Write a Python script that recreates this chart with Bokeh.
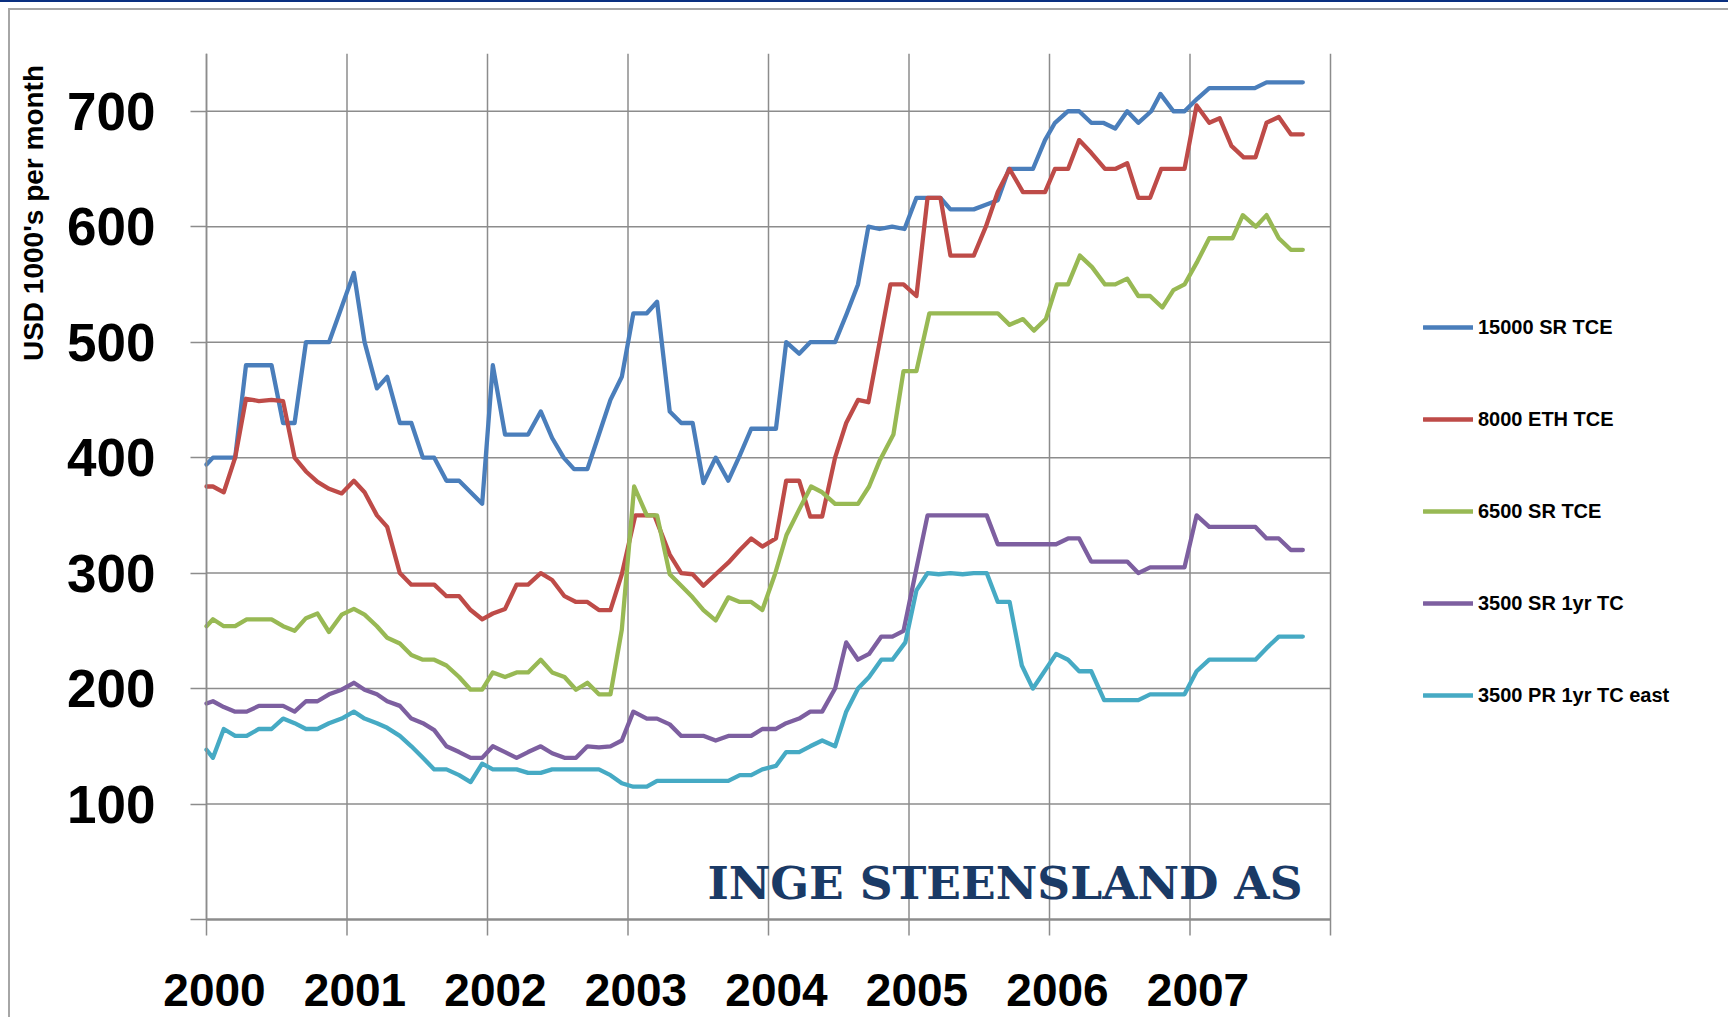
from bokeh.plotting import figure
from bokeh.models import Range1d, FixedTicker, Label, Legend, LegendItem, NumeralTickFormatter
from bokeh.embed import file_html
from bokeh.resources import INLINE
import math

# ---------------- data ----------------
YEAR_TICKS = [2000, 2001, 2002, 2003, 2004, 2005, 2006, 2007, 2008]
YEAR_LABELS = [2000, 2001, 2002, 2003, 2004, 2005, 2006, 2007]
VALUE_TICKS = [0, 100, 200, 300, 400, 500, 600, 700]

SERIES_NAMES = ["15000 SR TCE", "8000 ETH TCE", "6500 SR TCE", "3500 SR 1yr TC", "3500 PR 1yr TC east"]

X_15000 = [2000.0, 2000.046, 2000.204, 2000.281, 2000.463, 2000.545, 2000.627, 2000.708, 2000.872,
           2001.049, 2001.125, 2001.213, 2001.286, 2001.376, 2001.458, 2001.540, 2001.621, 2001.708,
           2001.798, 2001.962, 2002.038, 2002.125, 2002.289, 2002.379, 2002.460, 2002.542, 2002.616,
           2002.711, 2002.793, 2002.875, 2002.956, 2003.038, 2003.134, 2003.207, 2003.297, 2003.379,
           2003.460, 2003.537, 2003.624, 2003.714, 2003.796, 2003.877, 2004.053, 2004.126, 2004.218,
           2004.297, 2004.474, 2004.558, 2004.637, 2004.711, 2004.790, 2004.880, 2004.968, 2005.053,
           2005.224, 2005.295, 2005.461, 2005.547, 2005.632, 2005.711, 2005.882, 2005.968, 2006.039,
           2006.132, 2006.211, 2006.297, 2006.382, 2006.468, 2006.553, 2006.632, 2006.724, 2006.789,
           2006.882, 2006.961, 2007.053, 2007.137, 2007.461, 2007.545, 2007.803]
Y_15000 = [394, 400, 400, 480, 480, 430, 430, 500, 500,
           560, 500, 460, 470, 430, 430, 400, 400, 380,
           380, 360, 480, 420, 420, 440, 417, 400, 390,
           390, 420, 450, 470, 525, 525, 535, 440, 430,
           430, 378, 400, 380, 402, 425, 425, 500, 490,
           500, 500, 525, 550, 600, 598, 600, 598, 625,
           625, 615, 615, 619, 623, 650, 650, 675, 690,
           700, 700, 690, 690, 685, 700, 690, 700, 715,
           700, 700, 711, 720, 720, 725, 725]

X_8000 = [2000.0, 2000.046, 2000.123, 2000.204, 2000.281, 2000.373, 2000.463, 2000.545, 2000.627,
          2000.708, 2000.790, 2000.872, 2000.962, 2001.049, 2001.125, 2001.213, 2001.286, 2001.376,
          2001.458, 2001.621, 2001.708, 2001.798, 2001.880, 2001.962, 2002.038, 2002.125, 2002.207,
          2002.289, 2002.379, 2002.460, 2002.548, 2002.630, 2002.711, 2002.793, 2002.875, 2002.956,
          2003.052, 2003.188, 2003.297, 2003.379, 2003.460, 2003.537, 2003.624, 2003.714, 2003.796,
          2003.877, 2003.956, 2004.053, 2004.126, 2004.218, 2004.297, 2004.382, 2004.474, 2004.553,
          2004.637, 2004.711, 2004.868, 2004.961, 2005.053, 2005.132, 2005.224, 2005.295, 2005.461,
          2005.547, 2005.632, 2005.716, 2005.811, 2005.968, 2006.039, 2006.132, 2006.211, 2006.297,
          2006.395, 2006.468, 2006.553, 2006.632, 2006.716, 2006.795, 2006.961, 2007.047, 2007.137,
          2007.211, 2007.295, 2007.382, 2007.466, 2007.545, 2007.632, 2007.718, 2007.803]
Y_8000 = [375, 375, 370, 400, 451, 449, 450, 449, 400,
          388, 379, 373, 369, 380, 370, 350, 340, 300,
          290, 290, 280, 280, 268, 260, 265, 269, 290,
          290, 300, 294, 280, 275, 275, 268, 268, 299,
          350, 350, 316, 300, 299, 289, 299, 309, 320,
          330, 323, 330, 380, 380, 349, 349, 400, 430,
          450, 448, 550, 550, 540, 625, 625, 575, 575,
          600, 630, 650, 630, 630, 650, 650, 675, 664,
          650, 650, 655, 625, 625, 650, 650, 705, 690,
          694, 670, 660, 660, 690, 695, 680, 680]

X_6500 = [2000.0, 2000.046, 2000.123, 2000.204, 2000.286, 2000.463, 2000.545, 2000.627, 2000.708,
          2000.790, 2000.872, 2000.962, 2001.049, 2001.125, 2001.213, 2001.286, 2001.376, 2001.458,
          2001.540, 2001.621, 2001.708, 2001.798, 2001.880, 2001.962, 2002.038, 2002.125, 2002.207,
          2002.289, 2002.379, 2002.460, 2002.548, 2002.630, 2002.711, 2002.793, 2002.875, 2002.956,
          2003.044, 2003.134, 2003.207, 2003.297, 2003.379, 2003.460, 2003.537, 2003.624, 2003.714,
          2003.796, 2003.877, 2003.956, 2004.046, 2004.128, 2004.218, 2004.303, 2004.382, 2004.474,
          2004.637, 2004.716, 2004.790, 2004.889, 2004.961, 2005.053, 2005.145, 2005.632, 2005.716,
          2005.811, 2005.889, 2005.974, 2006.053, 2006.132, 2006.216, 2006.303, 2006.395, 2006.468,
          2006.553, 2006.632, 2006.716, 2006.803, 2006.882, 2006.961, 2007.053, 2007.137, 2007.303,
          2007.376, 2007.468, 2007.545, 2007.632, 2007.718, 2007.803]
Y_6500 = [254, 260, 254, 254, 260, 260, 254, 250, 261,
          265, 249, 264, 269, 264, 254, 244, 239, 229,
          225, 225, 220, 210, 199, 199, 214, 210, 214,
          214, 225, 214, 210, 199, 205, 195, 195, 251,
          375, 350, 350, 299, 289, 279, 268, 259, 279,
          275, 275, 268, 299, 333, 355, 375, 370, 360,
          360, 375, 397, 420, 475, 475, 525, 525, 515,
          520, 510, 520, 550, 550, 575, 565, 550, 550,
          555, 540, 540, 530, 545, 550, 570, 590, 590,
          610, 600, 610, 590, 580, 580]

X_3500SR = [2000.0, 2000.046, 2000.123, 2000.204, 2000.286, 2000.373, 2000.545, 2000.627, 2000.708,
            2000.790, 2000.872, 2000.962, 2001.049, 2001.125, 2001.213, 2001.286, 2001.376, 2001.458,
            2001.540, 2001.621, 2001.708, 2001.798, 2001.880, 2001.962, 2002.038, 2002.125, 2002.207,
            2002.289, 2002.379, 2002.460, 2002.548, 2002.630, 2002.711, 2002.793, 2002.875, 2002.956,
            2003.038, 2003.134, 2003.207, 2003.297, 2003.379, 2003.540, 2003.624, 2003.714, 2003.877,
            2003.956, 2004.053, 2004.126, 2004.218, 2004.297, 2004.382, 2004.474, 2004.553, 2004.637,
            2004.716, 2004.803, 2004.882, 2004.961, 2005.053, 2005.132, 2005.553, 2005.632, 2006.047,
            2006.132, 2006.211, 2006.297, 2006.553, 2006.632, 2006.716, 2006.961, 2007.047, 2007.137,
            2007.466, 2007.545, 2007.632, 2007.718, 2007.803]
Y_3500SR = [187, 189, 184, 180, 180, 185, 185, 180, 189,
            189, 195, 199, 205, 199, 195, 189, 185, 174,
            170, 164, 150, 145, 140, 140, 150, 145, 140,
            145, 150, 144, 140, 140, 150, 149, 150, 155,
            180, 174, 174, 169, 159, 159, 155, 159, 159,
            165, 165, 170, 174, 180, 180, 200, 240, 225,
            230, 245, 245, 250, 304, 350, 350, 325, 325,
            330, 330, 310, 310, 300, 305, 305, 350, 340,
            340, 330, 330, 320, 320]

X_3500PR = [2000.0, 2000.046, 2000.123, 2000.204, 2000.286, 2000.373, 2000.463, 2000.545, 2000.627,
            2000.708, 2000.790, 2000.872, 2000.962, 2001.049, 2001.125, 2001.213, 2001.286, 2001.376,
            2001.458, 2001.540, 2001.621, 2001.708, 2001.798, 2001.880, 2001.962, 2002.038, 2002.207,
            2002.289, 2002.379, 2002.460, 2002.793, 2002.875, 2002.956, 2003.038, 2003.134, 2003.207,
            2003.714, 2003.796, 2003.877, 2003.956, 2004.053, 2004.126, 2004.218, 2004.297, 2004.382,
            2004.474, 2004.553, 2004.637, 2004.716, 2004.803, 2004.882, 2004.974, 2005.053, 2005.132,
            2005.211, 2005.295, 2005.382, 2005.461, 2005.553, 2005.632, 2005.716, 2005.803, 2005.882,
            2006.047, 2006.132, 2006.211, 2006.297, 2006.389, 2006.632, 2006.716, 2006.961, 2007.047,
            2007.137, 2007.466, 2007.545, 2007.632, 2007.803]
Y_3500PR = [147, 140, 165, 159, 159, 165, 165, 174, 170,
            165, 165, 170, 174, 180, 174, 170, 166, 159,
            150, 140, 130, 130, 125, 119, 135, 130, 130,
            127, 127, 130, 130, 125, 118, 115, 115, 120,
            120, 125, 125, 130, 133, 145, 145, 150, 155,
            150, 180, 200, 210, 225, 225, 240, 285, 300,
            299, 300, 299, 300, 300, 275, 275, 220, 200,
            230, 225, 215, 215, 190, 190, 195, 195, 215,
            225, 225, 235, 245, 245]

SERIES_X = [X_15000, X_8000, X_6500, X_3500SR, X_3500PR]
SERIES_Y = [Y_15000, Y_8000, Y_6500, Y_3500SR, Y_3500PR]
COLORS = ["#4A7EBB", "#BE4B48", "#98B954", "#7D5FA0", "#46AAC4"]

# ---------------- layout constants (pixels) ----------------
GRID = "#8C8C8C"
FONT = "Liberation Sans"
W, H = 1728, 1017
LEFT, TOP = 206, 53            # where the 2000 line / the 750 level sit on the page
PX_PER_YEAR = 140.5            # 2000 -> 2008 spans 1124 px
PX_PER_UNIT = 866 / 750.0      # 0 -> 750 spans 866 px
TICK_OUT = 16                  # tick marks below the x axis / left of the y axis

y_top = 750
x_start = YEAR_TICKS[0] - LEFT / PX_PER_YEAR
x_end = YEAR_TICKS[0] + (W - LEFT) / PX_PER_YEAR
y_start = -(H - TOP - y_top * PX_PER_UNIT) / PX_PER_UNIT
tick_stub = -TICK_OUT / PX_PER_UNIT


def px_to_x(px):
    return YEAR_TICKS[0] + (px - LEFT) / PX_PER_YEAR


def px_to_y(py):
    return y_top - (py - TOP) / PX_PER_UNIT


p = figure(width=W, height=H, output_backend="svg", toolbar_location=None,
           x_range=Range1d(x_start, x_end), y_range=Range1d(y_start, y_top),
           min_border_left=0, min_border_right=0, min_border_top=TOP, min_border_bottom=0)
p.outline_line_color = None
p.background_fill_color = None
p.border_fill_color = None
# thin dark-blue rule at the very top and grey frame line (painted by the page element behind the canvas)
p.styles = {"box-shadow": "inset 0 2px 0 0 #0A2F80, inset 8px 8px 0 0 #FFFFFF, inset 10px 10px 0 0 #A6A6A6"}
p.xgrid.visible = False
p.ygrid.visible = False

# grid lines limited to the 2000-2008 / 0-750 area (vertical ones run on as tick marks below the axis)
p.segment(x0=YEAR_TICKS, x1=YEAR_TICKS, y0=[tick_stub] * len(YEAR_TICKS), y1=[y_top] * len(YEAR_TICKS),
          line_color=GRID, line_width=1.5)
p.segment(x0=[YEAR_TICKS[0]] * (len(VALUE_TICKS) - 1), x1=[YEAR_TICKS[-1]] * (len(VALUE_TICKS) - 1),
          y0=VALUE_TICKS[1:], y1=VALUE_TICKS[1:], line_color=GRID, line_width=1.5)
p.segment(x0=[YEAR_TICKS[0]], x1=[YEAR_TICKS[-1]], y0=[VALUE_TICKS[0]], y1=[VALUE_TICKS[0]],
          line_color=GRID, line_width=2.5)

# y axis, drawn on the 2000 line
p.yaxis.fixed_location = YEAR_TICKS[0]
p.yaxis.bounds = (VALUE_TICKS[0], y_top)
p.yaxis.ticker = FixedTicker(ticks=VALUE_TICKS)
p.yaxis.major_label_overrides = {0: ""}
p.yaxis.major_label_text_font = FONT
p.yaxis.major_label_text_font_style = "bold"
p.yaxis.major_label_text_font_size = "53px"
p.yaxis.major_label_text_color = "black"
p.yaxis.major_label_standoff = 35
p.yaxis.major_tick_out = TICK_OUT
p.yaxis.major_tick_in = 0
p.yaxis.minor_tick_out = 0
p.yaxis.minor_tick_in = 0
p.yaxis.major_tick_line_color = GRID
p.yaxis.major_tick_line_width = 1.5
p.yaxis.axis_line_color = GRID
p.yaxis.axis_line_width = 1.5

# x axis: year labels, drawn at the zero line, centred a little right of each year line
p.xaxis.fixed_location = 0
p.xaxis.ticker = FixedTicker(ticks=[y + 0.057 for y in YEAR_LABELS])
p.xaxis.formatter = NumeralTickFormatter(format="0")
p.xaxis.major_label_text_font = FONT
p.xaxis.major_label_text_font_style = "bold"
p.xaxis.major_label_text_font_size = "46px"
p.xaxis.major_label_text_color = "black"
p.xaxis.major_label_standoff = 54
p.xaxis.major_tick_out = 0
p.xaxis.major_tick_in = 0
p.xaxis.minor_tick_out = 0
p.xaxis.minor_tick_in = 0
p.xaxis.major_tick_line_color = None
p.xaxis.minor_tick_line_color = None
p.xaxis.axis_line_color = None

# y axis title
p.add_layout(Label(x=px_to_x(33), y=px_to_y(212.5), text="USD 1000's per month", angle=math.pi / 2,
                   text_font=FONT, text_font_style="bold", text_font_size="28px",
                   text_align="center", text_baseline="middle", text_color="black"))

# series
renderers = []
for xs, ys, c in zip(SERIES_X, SERIES_Y, COLORS):
    r = p.line(xs, ys, line_color=c, line_width=4.3, line_join="round", line_cap="round")
    renderers.append(r)

legend = Legend(items=[LegendItem(label=n, renderers=[r]) for n, r in zip(SERIES_NAMES, renderers)],
                location=(1423, 310), orientation="vertical", padding=0, margin=0, spacing=68,
                glyph_width=50, glyph_height=24, label_height=24, label_standoff=5,
                border_line_color=None, background_fill_alpha=0,
                label_text_font=FONT, label_text_font_style="bold", label_text_font_size="20px",
                label_text_color="black")
p.add_layout(legend)

# watermark
p.add_layout(Label(x=px_to_x(1302), y=px_to_y(882), text="INGE STEENSLAND AS", text_font="DejaVu Serif",
                   text_font_style="bold", text_font_size="45.5px", text_align="right",
                   text_baseline="middle", text_color="#1A3A66"))

open("out.html", "w").write(file_html(p, INLINE))
